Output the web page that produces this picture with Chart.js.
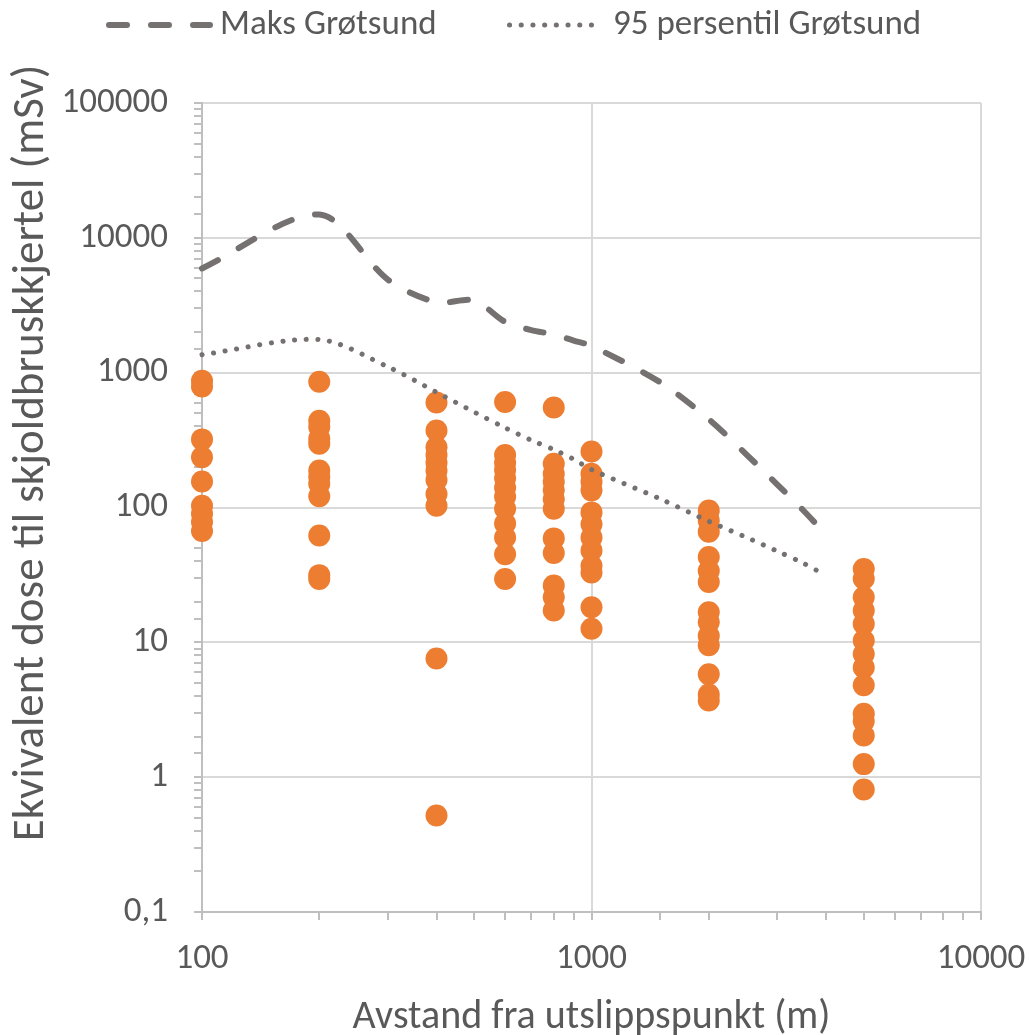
<!DOCTYPE html>
<html>
<head>
<meta charset="utf-8">
<style>
  html, body { margin: 0; padding: 0; background: #ffffff; }
  #wrap { width: 1029px; height: 1035px; }
</style>
<script src="https://cdn.jsdelivr.net/npm/chart.js@4.4.1/dist/chart.umd.min.js"></script>
</head>
<body>
<div id="wrap"><canvas id="c" width="1029" height="1035"></canvas></div>
<script>
// ---------------- DATA ----------------
const seriesNames = ['Maks Grøtsund', '95 persentil Grøtsund'];
const xTitle = 'Avstand fra utslippspunkt (m)';
const yTitle = 'Ekvivalent dose til skjoldbruskkjertel (mSv)';

// Curve knots (distance m)
const lineDistances = [100, 200, 300, 400, 500, 600, 700, 800, 900, 1000, 1500, 2000, 2500, 3000, 3500, 4000];
const maksGrotsund = [5930, 14900, 4900, 3330, 3430, 2380, 2070, 1920, 1730, 1580, 850, 452, 247, 148, 95, 63];
const p95Grotsund = [1360, 1760, 1106, 716, 510, 390, 316, 269, 228, 191, 116, 79, 60, 47.4, 38.6, 31.3];

// Scatter points (distance m -> dose values mSv)
const dotDistances = [100, 200, 400, 600, 800, 1000, 2000, 5000];
const dose100 = [870, 790, 320, 236, 156, 103, 90, 78, 67];
const dose200 = [855, 440, 395, 325, 297, 188, 168, 150, 121, 62, 31.5, 29.5];
const dose400 = [600, 372, 280, 245, 215, 188, 160, 126, 103, 7.6, 0.52];
const dose600 = [605, 245, 215, 190, 165, 140, 120, 98, 76, 60, 45, 29.5];
const dose800 = [552, 211, 178, 155, 134, 115, 98, 59, 46, 26.4, 21.6, 17.2];
const dose1000 = [260, 178, 155, 134, 92, 75, 60, 48, 37, 33, 18.2, 12.6];
const dose2000 = [95, 80, 66, 43, 34, 28, 16.7, 14.1, 11.2, 9.5, 5.8, 4.1, 3.7];
const dose5000 = [35, 29.6, 21.6, 17.2, 13.7, 10.3, 8.2, 6.5, 4.8, 2.95, 2.6, 2.04, 1.25, 0.81];
const doseColumns = [dose100, dose200, dose400, dose600, dose800, dose1000, dose2000, dose5000];

const xMin = 100, xMax = 10000;
const yMin = 0.1, yMax = 100000;

// ---------------- STYLE ----------------
const FONT = "Carlito, Lato, 'Open Sans', sans-serif";
const TEXT = '#595959';
const LINE_GREY = '#767171';
const ORANGE = '#ED7D31';
const GRID = '#d9d9d9';
const AXIS = '#bfbfbf';

const isMajor = v => { const l = Math.log10(v); return Math.abs(l - Math.round(l)) < 1e-6; };

const linePoints = arr => lineDistances.map((d, i) => ({ x: d, y: arr[i] }));
const dotPoints = dotDistances.flatMap((d, i) => doseColumns[i].map(v => ({ x: d, y: v })));

const customText = {
  id: 'customText',
  afterDraw(chart) {
    const ctx = chart.ctx;
    // y-axis title
    ctx.save();
    ctx.translate(32, 453);
    ctx.rotate(-Math.PI / 2);
    ctx.font = `45px ${FONT}`;
    ctx.fillStyle = TEXT;
    ctx.textAlign = 'center';
    ctx.textBaseline = 'middle';
    ctx.fillText(yTitle, 0, 0);
    ctx.restore();

    // legend
    const items = [
      { ds: chart.data.datasets[0], x0: 106, x1: 210, tx: 220 },
      { ds: chart.data.datasets[1], x0: 507, x1: 600, tx: 613 }
    ];
    const ly = 25;
    items.forEach(it => {
      ctx.save();
      ctx.strokeStyle = it.ds.borderColor;
      ctx.lineWidth = it.ds.borderWidth;
      ctx.lineCap = it.ds.borderCapStyle;
      ctx.setLineDash(it.ds.borderDash);
      ctx.beginPath();
      ctx.moveTo(it.x0 + it.ds.borderWidth / 2, ly);
      ctx.lineTo(it.x1, ly);
      ctx.stroke();
      ctx.setLineDash([]);
      ctx.font = `35px ${FONT}`;
      ctx.fillStyle = TEXT;
      ctx.textAlign = 'left';
      ctx.textBaseline = 'middle';
      ctx.fillText(it.ds.label, it.tx, ly);
      ctx.restore();
    });
  }
};

new Chart(document.getElementById('c'), {
  type: 'scatter',
  data: {
    datasets: [
      {
        label: seriesNames[0],
        data: linePoints(maksGrotsund),
        showLine: true,
        borderColor: LINE_GREY,
        borderWidth: 6,
        borderDash: [18, 24],
        borderCapStyle: 'round',
        pointRadius: 0,
        pointHoverRadius: 0,
        tension: 0.3,
        fill: false,
        clip: false
      },
      {
        label: seriesNames[1],
        data: linePoints(p95Grotsund),
        showLine: true,
        borderColor: LINE_GREY,
        borderWidth: 5,
        borderDash: [0.1, 11.6],
        borderCapStyle: 'round',
        pointRadius: 0,
        pointHoverRadius: 0,
        tension: 0.3,
        fill: false,
        clip: false
      },
      {
        label: 'punkter',
        data: dotPoints,
        showLine: false,
        backgroundColor: ORANGE,
        borderColor: ORANGE,
        borderWidth: 0,
        pointRadius: 11,
        pointHoverRadius: 11,
        clip: false
      }
    ]
  },
  options: {
    responsive: false,
    animation: false,
    devicePixelRatio: 1,
    events: [],
    layout: { padding: { left: 0, right: 48, top: 103, bottom: 0 } },
    plugins: {
      legend: { display: false },
      tooltip: { enabled: false }
    },
    scales: {
      x: {
        type: 'logarithmic',
        min: xMin,
        max: xMax,
        afterFit(scale) { scale.height = 123; scale.paddingLeft = 0; scale.paddingRight = 0; },
        border: { display: true, color: AXIS, width: 2 },
        grid: {
          color: c => (c.tick && isMajor(c.tick.value)) ? GRID : 'rgba(0,0,0,0)',
          lineWidth: 2,
          tickColor: AXIS,
          tickWidth: 2,
          tickLength: 8,
          drawTicks: true
        },
        ticks: {
          autoSkip: false,
          maxRotation: 0,
          minRotation: 0,
          padding: 18,
          color: TEXT,
          font: { family: FONT, size: 35 },
          callback: v => isMajor(v) ? String(Math.round(v)) : ''
        },
        title: {
          display: true,
          text: xTitle,
          color: TEXT,
          font: { family: FONT, size: 40, lineHeight: 0.85 },
          padding: { top: 0, bottom: 0 }
        }
      },
      y: {
        type: 'logarithmic',
        min: yMin,
        max: yMax,
        afterFit(scale) { scale.width = 202; scale.paddingTop = 0; scale.paddingBottom = 0; },
        border: { display: true, color: AXIS, width: 2 },
        grid: {
          color: c => (c.tick && isMajor(c.tick.value)) ? GRID : 'rgba(0,0,0,0)',
          lineWidth: 2,
          tickColor: AXIS,
          tickWidth: 2,
          tickLength: 8,
          drawTicks: true
        },
        ticks: {
          autoSkip: false,
          padding: 26,
          color: TEXT,
          font: { family: FONT, size: 35 },
          callback: v => isMajor(v) ? (v >= 1 ? String(Math.round(v)) : String(v).replace('.', ',')) : ''
        }
      }
    }
  },
  plugins: [customText]
});
</script>
</body>
</html>
